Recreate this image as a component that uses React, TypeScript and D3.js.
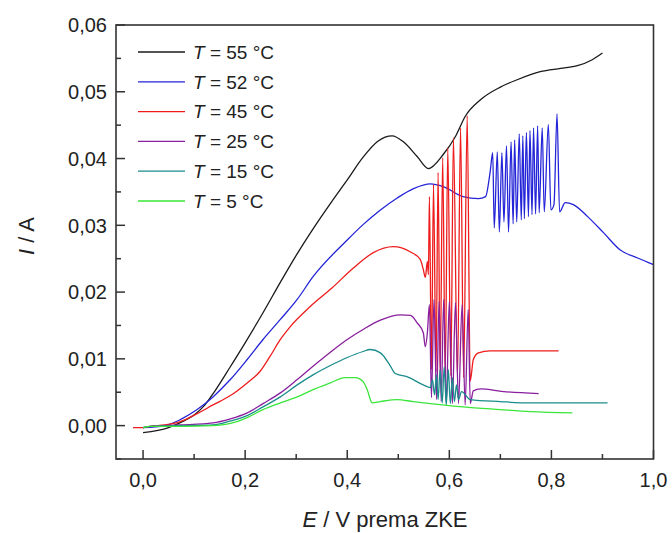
import React from "react";
import * as d3 from "d3";

type P = [number, number];

const seriesNames = ["55", "52", "45", "25", "15", "5"];
const seriesColors = ["#1a1a1a", "#2424d8", "#ee1c1c", "#8a1f9e", "#1b8c8c", "#3ae63a"];

const t55: P[] = [
  [0.0, -0.00105], [0.05, -0.0003], [0.08, 0.0007], [0.1, 0.0016], [0.12, 0.003],
  [0.14, 0.0051], [0.17, 0.0087], [0.2, 0.0124], [0.235, 0.0169], [0.27, 0.0216],
  [0.3, 0.0255], [0.335, 0.0297], [0.37, 0.0336], [0.4, 0.0368], [0.43, 0.0401],
  [0.46, 0.0426], [0.488, 0.0434], [0.51, 0.0425], [0.537, 0.0403], [0.559, 0.0385],
  [0.588, 0.0406], [0.612, 0.0433], [0.631, 0.0463], [0.661, 0.0488], [0.7, 0.0507],
  [0.733, 0.0518], [0.778, 0.053], [0.818, 0.0535], [0.851, 0.0539], [0.88, 0.0548], [0.9, 0.0558],
];

const t52: P[] = [
  [0.0, -0.0003], [0.043, 0.0], [0.073, 0.0009], [0.106, 0.0024], [0.137, 0.0043],
  [0.171, 0.0069], [0.204, 0.0099], [0.235, 0.0129], [0.269, 0.0159], [0.302, 0.0189],
  [0.333, 0.0223], [0.4, 0.0278], [0.431, 0.0301], [0.465, 0.0323], [0.498, 0.0341],
  [0.53, 0.0355], [0.563, 0.0362], [0.588, 0.0358], [0.627, 0.0343], [0.657, 0.034], [0.671, 0.0343],
  [0.68, 0.038], [0.685, 0.0409], [0.688, 0.0296], [0.694, 0.041], [0.698, 0.029],
  [0.703, 0.0409], [0.707, 0.0305], [0.712, 0.0419], [0.716, 0.029], [0.721, 0.0425],
  [0.725, 0.0302], [0.728, 0.0428], [0.732, 0.0305], [0.737, 0.0437], [0.741, 0.0308],
  [0.744, 0.0434], [0.747, 0.031], [0.751, 0.0439], [0.755, 0.0313], [0.758, 0.0442],
  [0.762, 0.0316], [0.765, 0.0446], [0.769, 0.0317], [0.773, 0.0449], [0.776, 0.0319],
  [0.782, 0.0446], [0.786, 0.032], [0.794, 0.0451], [0.799, 0.0323], [0.805, 0.0331],
  [0.811, 0.0467], [0.816, 0.032], [0.827, 0.0334], [0.843, 0.0331], [0.871, 0.0313],
  [0.902, 0.0289], [0.935, 0.0263], [0.969, 0.0251], [1.0, 0.0241],
];

const t45: P[] = [
  [-0.0196, -0.0003], [0.0, -0.0003], [0.0137, -0.0001], [0.043, 0.0001], [0.073, 0.0006],
  [0.106, 0.0018], [0.137, 0.0031], [0.171, 0.0045], [0.204, 0.0064], [0.229, 0.0081],
  [0.249, 0.0104], [0.269, 0.0129], [0.288, 0.0148], [0.327, 0.0178], [0.37, 0.0206],
  [0.412, 0.0236], [0.451, 0.0259], [0.49, 0.0268], [0.524, 0.026], [0.543, 0.0249],
  [0.549, 0.0234], [0.553, 0.0222], [0.557, 0.0246], [0.559, 0.0226], [0.561, 0.0343],
  [0.565, 0.0084], [0.569, 0.0361], [0.574, 0.0081], [0.578, 0.0379], [0.582, 0.0078],
  [0.587, 0.0401], [0.592, 0.0076], [0.597, 0.0416], [0.603, 0.0075], [0.608, 0.0431],
  [0.616, 0.0072], [0.622, 0.0446], [0.628, 0.0072], [0.635, 0.0464], [0.641, 0.0067],
  [0.647, 0.0099], [0.657, 0.0109], [0.68, 0.0112], [0.739, 0.0112], [0.814, 0.0112],
];

const t25: P[] = [
  [0.0, -0.0003], [0.014, -0.0001], [0.073, 0.0001], [0.137, 0.0004], [0.171, 0.001],
  [0.204, 0.0019], [0.235, 0.0033], [0.269, 0.0049], [0.302, 0.0069], [0.333, 0.0089],
  [0.367, 0.011], [0.4, 0.0129], [0.431, 0.0144], [0.465, 0.0158], [0.504, 0.0166],
  [0.524, 0.0165], [0.537, 0.0154], [0.549, 0.0139], [0.553, 0.0118], [0.557, 0.0139],
  [0.561, 0.0181], [0.565, 0.0042], [0.57, 0.0189], [0.575, 0.0039], [0.58, 0.0186],
  [0.584, 0.0036], [0.589, 0.0189], [0.594, 0.0034], [0.6, 0.0186], [0.606, 0.0033],
  [0.612, 0.0184], [0.618, 0.0033], [0.625, 0.0181], [0.631, 0.0031], [0.637, 0.0174],
  [0.641, 0.0033], [0.647, 0.0052], [0.661, 0.0055], [0.706, 0.0051], [0.775, 0.0048],
];

const t15: P[] = [
  [0.0, -0.0003], [0.014, -0.0001], [0.073, 0.0], [0.137, 0.0001], [0.171, 0.0007],
  [0.204, 0.0015], [0.235, 0.0028], [0.269, 0.0043], [0.302, 0.0061], [0.333, 0.0076],
  [0.367, 0.009], [0.4, 0.0102], [0.431, 0.0111], [0.445, 0.0114], [0.465, 0.0109],
  [0.484, 0.009], [0.494, 0.0078], [0.518, 0.0073], [0.549, 0.0061], [0.563, 0.0057],
  [0.567, 0.0069], [0.571, 0.0046], [0.575, 0.0076], [0.578, 0.0039], [0.582, 0.0084],
  [0.586, 0.0034], [0.59, 0.0088], [0.594, 0.0031], [0.598, 0.0084], [0.602, 0.0033],
  [0.606, 0.0072], [0.61, 0.0036], [0.614, 0.0061], [0.618, 0.0039], [0.624, 0.0051],
  [0.641, 0.0039], [0.7, 0.0036], [0.759, 0.0034], [0.91, 0.0034],
];

const t5: P[] = [
  [0.0, -0.0003], [0.014, -0.0001], [0.073, -0.0001], [0.137, 0.0], [0.184, 0.0006],
  [0.204, 0.0012], [0.235, 0.0024], [0.269, 0.0034], [0.302, 0.0043], [0.333, 0.0054],
  [0.367, 0.0064], [0.396, 0.0072], [0.416, 0.0072], [0.431, 0.0066], [0.439, 0.0054],
  [0.449, 0.0034], [0.465, 0.0036], [0.498, 0.0039], [0.529, 0.0036], [0.563, 0.0033],
  [0.627, 0.0028], [0.7, 0.0024], [0.759, 0.0021], [0.841, 0.0019],
];

const seriesData: P[][] = [t55, t52, t45, t25, t15, t5];

const xMajor = [0, 0.2, 0.4, 0.6, 0.8, 1.0];
const xMinor = [0.1, 0.3, 0.5, 0.7, 0.9];
const yMajor = [0, 0.01, 0.02, 0.03, 0.04, 0.05, 0.06];
const yMinor = [-0.005, 0.005, 0.015, 0.025, 0.035, 0.045, 0.055];

const fmtX = (v: number) => v.toFixed(1).replace(".", ",");
const fmtY = (v: number) => v.toFixed(2).replace(".", ",");

export default function App() {
  const W = 672, H = 533;
  const left = 116, right = 653.5, top = 25, bottom = 459;
  const x = d3.scaleLinear().domain([-0.053, 1.0]).range([left, right]);
  const y = d3.scaleLinear().domain([-0.005, 0.06]).range([bottom, top]);
  const line = d3.line<P>().x((d) => x(d[0])).y((d) => y(d[1])).curve(d3.curveMonotoneX);
  const font = "'Liberation Sans', Arial, sans-serif";
  const axisColor = "#333";
  const legendY0 = 52, legendStep = 29.8;

  return (
    <svg width={W} height={H} style={{ position: "absolute", left: 0, top: 0, background: "#fff" }} fontFamily={font}>
      <rect x={0} y={0} width={W} height={H} fill="#fff" />
      <defs>
        <clipPath id="plot">
          <rect x={left} y={top} width={right - left} height={bottom - top} />
        </clipPath>
      </defs>
      <g clipPath="url(#plot)">
        {seriesData.map((d, i) => (
          <path key={i} d={line(d) || ""} fill="none" stroke={seriesColors[i]} strokeWidth={1.3} strokeLinejoin="round" />
        ))}
      </g>
      <rect x={left} y={top} width={right - left} height={bottom - top} fill="none" stroke={axisColor} strokeWidth={1.6} />
      {xMajor.map((v) => (
        <g key={"xm" + v}>
          <line x1={x(v)} x2={x(v)} y1={bottom} y2={bottom - 9} stroke={axisColor} strokeWidth={1.5} />
          <text x={x(v)} y={487} fontSize={20} textAnchor="middle" fill="#222">{fmtX(v)}</text>
        </g>
      ))}
      {xMinor.map((v) => (
        <line key={"xn" + v} x1={x(v)} x2={x(v)} y1={bottom} y2={bottom - 5} stroke={axisColor} strokeWidth={1.5} />
      ))}
      {yMajor.map((v) => (
        <g key={"ym" + v}>
          <line x1={left} x2={left + 9} y1={y(v)} y2={y(v)} stroke={axisColor} strokeWidth={1.5} />
          <text x={107} y={y(v)} dy="0.36em" fontSize={20} textAnchor="end" fill="#222">{fmtY(v)}</text>
        </g>
      ))}
      {yMinor.map((v) => (
        <line key={"yn" + v} x1={left} x2={left + 5} y1={y(v)} y2={y(v)} stroke={axisColor} strokeWidth={1.5} />
      ))}
      <text x={385} y={527} fontSize={22} textAnchor="middle" fill="#222">
        <tspan fontStyle="italic">E</tspan> / V prema ZKE
      </text>
      <text transform="translate(34,236) rotate(-90)" fontSize={22} textAnchor="middle" fill="#222">
        <tspan fontStyle="italic">I</tspan> / A
      </text>
      {seriesNames.map((n, i) => {
        const ly = legendY0 + i * legendStep;
        return (
          <g key={"lg" + i}>
            <line x1={138} x2={185} y1={ly} y2={ly} stroke={seriesColors[i]} strokeWidth={1.3} />
            <text x={193} y={ly} dy="0.36em" fontSize={19} fill="#222">
              <tspan fontStyle="italic">T</tspan> = {n} °C
            </text>
          </g>
        );
      })}
    </svg>
  );
}
